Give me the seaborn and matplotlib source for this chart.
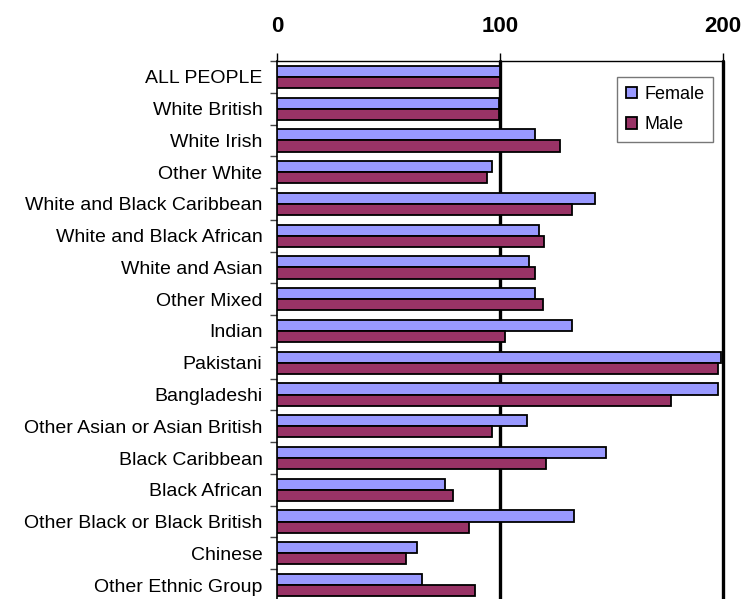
import matplotlib
matplotlib.use("Agg")
import matplotlib.pyplot as plt
from matplotlib.patches import Patch
import seaborn as sns
import pandas as pd
import numpy as np

categories = [
    "ALL PEOPLE", "White British", "White Irish", "Other White",
    "White and Black Caribbean", "White and Black African", "White and Asian",
    "Other Mixed", "Indian", "Pakistani", "Bangladeshi",
    "Other Asian or Asian British", "Black Caribbean", "Black African",
    "Other Black or Black British", "Chinese", "Other Ethnic Group",
]
female = [100, 99.5, 115.7, 96.3, 142.6, 117.3, 113, 115.7, 132.4, 199.1,
          197.8, 112.3, 147.5, 75.3, 133.2, 62.8, 65.2]
male = [100, 99.5, 127, 94, 132.4, 119.9, 115.7, 119.1, 102.2, 197.8,
        176.7, 96.3, 120.6, 78.8, 86.2, 57.8, 88.8]
series = ["Female", "Male"]
colors = ["#9999FF", "#993366"]
x_ticks = [0, 100, 200]

df = pd.DataFrame({
    "category": categories * 2,
    "value": female + male,
    "sex": [series[0]] * len(categories) + [series[1]] * len(categories),
})

sns.set_style("white")
plt.rcParams["font.family"] = ["Liberation Sans", "DejaVu Sans"]
plt.rcParams["text.color"] = "black"
plt.rcParams["xtick.color"] = "black"
plt.rcParams["ytick.color"] = "black"
plt.rcParams["axes.labelcolor"] = "black"

fig = plt.figure(figsize=(7.46, 5.99), dpi=100)
ax = fig.add_axes([0.3713, -0.0033, 0.5979, 0.9015])

sns.barplot(data=df, y="category", x="value", hue="sex", order=categories,
            hue_order=series, palette=colors, orient="h", width=0.7,
            edgecolor="black", linewidth=1.3, saturation=1, ax=ax, legend=False,
            zorder=3)

ax.set_xlim(0, 200)
ax.set_ylim(len(categories) - 0.5, -0.5)
ax.set_xlabel("")
ax.set_ylabel("")

# reference lines at 100 and 200
for v in x_ticks[1:]:
    ax.axvline(v, color="black", linewidth=2.4, zorder=2, clip_on=False)

ax.xaxis.tick_top()
ax.set_xticks(x_ticks)
ax.set_xticklabels([str(t) for t in x_ticks], fontsize=16, fontweight="bold")
ax.tick_params(axis="x", top=True, bottom=False, length=5.8, width=1,
               color="black", pad=11.5)

ax.set_yticks(range(len(categories)))
ax.set_yticklabels(categories, fontsize=14)
ax.tick_params(axis="y", which="major", length=0, pad=10.5)
ax.set_yticks(np.arange(-0.5, len(categories), 1.0), minor=True)
ax.tick_params(axis="y", which="minor", left=True, length=5, width=1, color="#444444")

for side in ["right", "bottom"]:
    ax.spines[side].set_visible(False)
ax.spines["left"].set_color("black")
ax.spines["left"].set_linewidth(1.2)
ax.spines["top"].set_color("black")
ax.spines["top"].set_linewidth(1.0)

handles = [Patch(facecolor=c, edgecolor="black", linewidth=1.3, label=s)
           for s, c in zip(series, colors)]
leg = ax.legend(handles=handles, loc="upper right", bbox_to_anchor=(0.978, 0.971),
                borderaxespad=0, fontsize=13, frameon=True, fancybox=False,
                handlelength=0.6, handleheight=0.6, handletextpad=0.4,
                labelspacing=0.75, borderpad=0.5)
leg.get_frame().set_edgecolor("#555555")
leg.get_frame().set_linewidth(1.0)
leg.set_zorder(5)

fig.savefig("out.png", dpi=100)
